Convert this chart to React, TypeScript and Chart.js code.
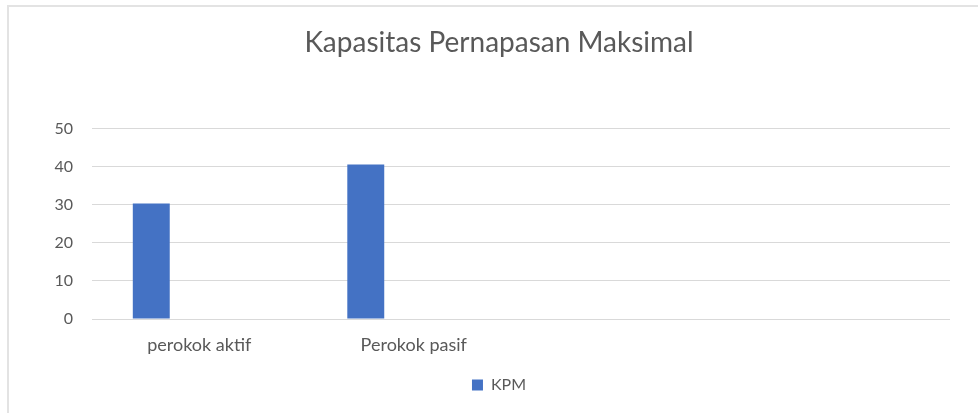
import React, { useEffect, useRef } from "react";
import { Chart, registerables } from "chart.js";

Chart.register(...registerables);

const categories = ["perokok aktif", "Perokok pasif", "", ""];
const kpmValues = [30.3, 40.6, null, null];
const emptySeriesA = [null, null, null, null];
const emptySeriesB = [null, null, null, null];
const yTickValues = [0, 10, 20, 30, 40, 50];
const chartTitle = "Kapasitas Pernapasan Maksimal";
const seriesName = "KPM";

const TEXT = "#595959";
const GRID = "#d9d9d9";
const BAR = "#4472c4";
const FONT = "Lato, 'Open Sans', sans-serif";

export default function App() {
  const ref = useRef<HTMLCanvasElement | null>(null);

  useEffect(() => {
    if (!ref.current) return;
    const chart = new Chart(ref.current, {
      type: "bar",
      data: {
        labels: categories,
        datasets: [
          { label: seriesName, data: kpmValues, backgroundColor: BAR, borderWidth: 0 },
          { label: "", data: emptySeriesA, backgroundColor: "transparent" },
          { label: "", data: emptySeriesB, backgroundColor: "transparent" },
        ],
      },
      options: {
        responsive: false,
        animation: false,
        devicePixelRatio: 1,
        datasets: {
          bar: { categoryPercentage: 0.671, barPercentage: 0.77 },
        },
        layout: { padding: { left: 48, right: 28, top: 0, bottom: 10 } },
        plugins: {
          tooltip: { enabled: false },
          title: {
            display: true,
            text: chartTitle,
            color: TEXT,
            font: { family: FONT, size: 28, weight: "normal" },
            padding: { top: 26, bottom: 69 },
          },
          legend: {
            display: true,
            position: "bottom",
            labels: {
              color: TEXT,
              font: { family: FONT, size: 16 },
              boxWidth: 11,
              boxHeight: 11,
              padding: 10,
              filter: (item: any) => item.text === seriesName,
            },
          },
        },
        scales: {
          x: {
            grid: { display: false, drawTicks: false },
            border: { display: false },
            ticks: { color: TEXT, font: { family: FONT, size: 18 }, padding: 15, maxRotation: 0 },
            afterFit: (s: any) => { s.height = 48; },
          },
          y: {
            min: 0,
            max: 50,
            afterBuildTicks: (s: any) => { s.ticks = yTickValues.map((v) => ({ value: v })); },
            grid: { color: GRID, lineWidth: 1, drawTicks: false },
            border: { display: false },
            ticks: { color: TEXT, font: { family: FONT, size: 16 }, padding: 19 },
            afterFit: (s: any) => { s.width = 44; },
          },
        },
      },
    });
    return () => chart.destroy();
  }, []);

  return (
    <>
      <div
        style={{
          position: "fixed",
          left: 7,
          top: 5,
          width: 1000,
          height: 500,
          border: "2px solid #e3e3e3",
          boxSizing: "border-box",
        }}
      />
      <canvas
        ref={ref}
        width={978}
        height={413}
        style={{ position: "fixed", left: 0, top: 0, width: 978, height: 413 }}
      />
    </>
  );
}
